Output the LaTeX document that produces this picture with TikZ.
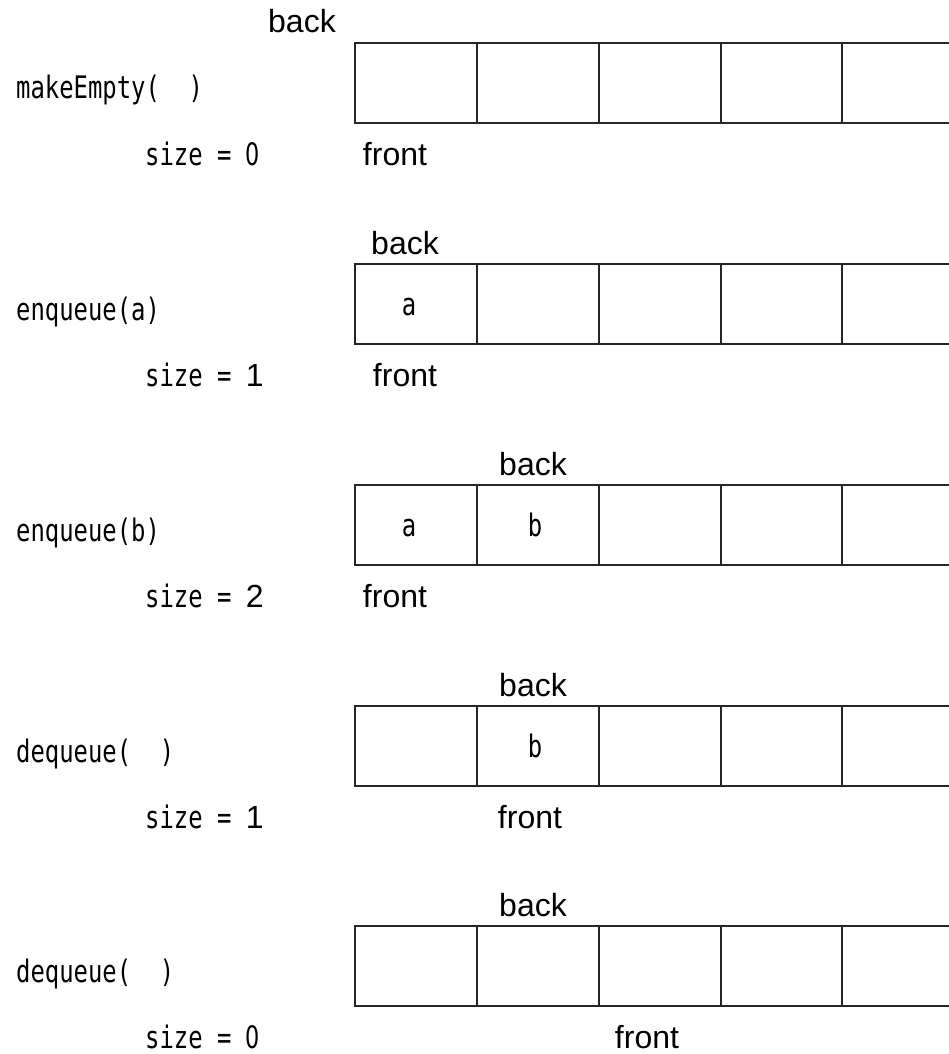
\documentclass[tikz,border=0pt]{standalone}
\usepackage{fontspec}
\setmainfont{Liberation Sans}
\newfontfamily\monof[FakeStretch=0.77]{DejaVu Sans Mono}
\newfontfamily\condf[FakeStretch=0.72]{DejaVu Sans}
\newcommand\bigsans{\rmfamily\fontsize{32}{36}\selectfont}
\newcommand\zeroc{{\condf 0}}
\newcommand\qrow[6]{%
  \draw[grid] (949,#2) -- (355,#2) -- (355,{#2+80}) -- (949,{#2+80});
  \foreach \xx in {477,599,721,842} \draw[grid] (\xx,#2) -- (\xx,{#2+80});
  \node[lbl] (back#1) at (#5,{#2-10}) {back};
  \node[lbl] (front#1) at (#6,{#2+122}) {front};
  \node[mono] (op#1) at (16,{#2+56}) {#3};
  \node[mono,text depth=0pt] (size#1) at (145,{#2+122}) {#4};
}
\begin{document}
\begin{tikzpicture}[x=1pt,y=-1pt,
  grid/.style={draw=black!85,line width=1.6pt},
  lbl/.style={font=\bigsans, inner sep=0pt, anchor=base},
  mono/.style={font=\monof\fontsize{31}{36}\selectfont, inner sep=0pt, anchor=base west},
  cellchar/.style={font=\monof\fontsize{31}{36}\selectfont, inner sep=0pt, anchor=base}]
\useasboundingbox[fill=white] (0,0) rectangle (949,1054);
\qrow{1}{43}{makeEmpty(\ \ )}{size = \zeroc}{302}{395}
\qrow{2}{264}{enqueue(a)}{size = {\bigsans 1}}{405}{405}
\qrow{3}{485}{enqueue(b)}{size = {\bigsans 2}}{533}{395}
\qrow{4}{706}{dequeue(\ \ )}{size = {\bigsans 1}}{533}{530}
\qrow{5}{926}{dequeue(\ \ )}{size = \zeroc}{533}{647}
\node[cellchar] (a2) at (409,315) {a};
\node[cellchar] (a3) at (409,536) {a};
\node[cellchar] (b3) at (535,536) {b};
\node[cellchar] (b4) at (535,757) {b};
\end{tikzpicture}
\end{document}
